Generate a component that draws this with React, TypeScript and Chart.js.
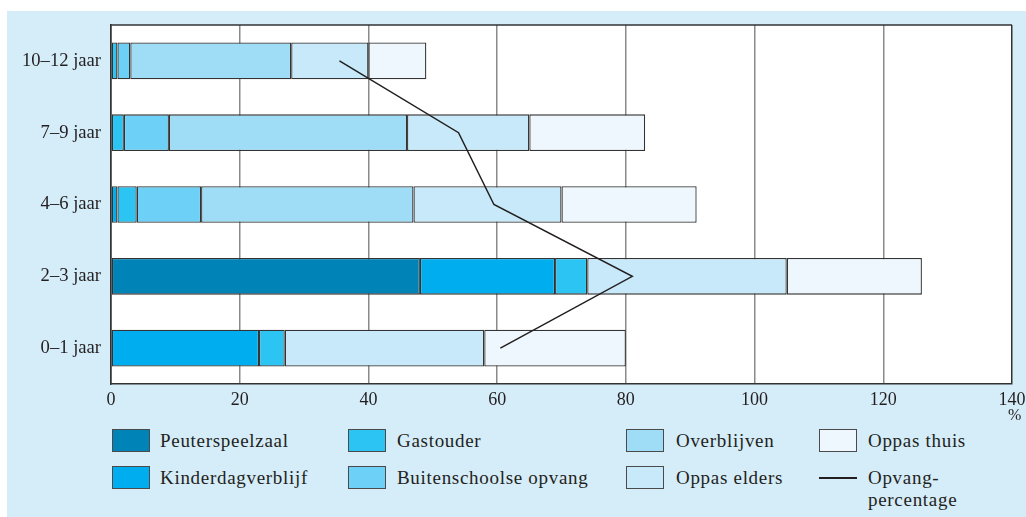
import React, { useEffect, useRef } from 'react';
import { Chart, registerables } from 'chart.js';

Chart.register(...registerables);

// ---- data ----
const categories = ['10–12 jaar', '7–9 jaar', '4–6 jaar', '2–3 jaar', '0–1 jaar'];
const peuterspeelzaal = [null, null, null, 48, null];
const kinderdagverblijf = [null, null, 1, 21, 23];
const gastouder = [1, 2, 3, 5, 4];
const buitenschoolseOpvang = [2, 7, 10, null, null];
const overblijven = [25, 37, 33, null, null];
const oppasElders = [12, 19, 23, 31, 31];
const oppasThuis = [9, 18, 21, 21, 22];
const opvangPercentage = [35.5, 54, 59.5, 81, 60.5];
const xTickValues = [0, 20, 40, 60, 80, 100, 120, 140];

const seriesNames = [
  'Peuterspeelzaal',
  'Kinderdagverblijf',
  'Gastouder',
  'Buitenschoolse opvang',
  'Overblijven',
  'Oppas elders',
  'Oppas thuis',
];
const seriesValues = [
  peuterspeelzaal,
  kinderdagverblijf,
  gastouder,
  buitenschoolseOpvang,
  overblijven,
  oppasElders,
  oppasThuis,
];
const lineName = 'Opvang-\npercentage';

// ---- styles ----
const seriesColors = ['#0083b6', '#00aeef', '#2cc5f3', '#6dd0f6', '#9fddf7', '#c7e9f9', '#eef7fd'];
const FONT = '"Liberation Serif", "Times New Roman", serif';
const TEXT = '#231f20';
const PANEL = '#d5ecf9';

const legendSlots = [
  { x: 112, y: 429, tx: 160, cy: 441 },
  { x: 112, y: 466, tx: 160, cy: 478 },
  { x: 348, y: 429, tx: 397, cy: 441 },
  { x: 348, y: 466, tx: 397, cy: 478 },
  { x: 626, y: 429, tx: 676, cy: 441 },
  { x: 626, y: 466, tx: 676, cy: 478 },
  { x: 819, y: 429, tx: 868, cy: 441 },
];
const lineSlot = { x: 819, y: 466, tx: 868, cy: 478 };

const plotPlugin = {
  id: 'plotBg',
  beforeDraw(chart: any) {
    const { ctx, chartArea } = chart;
    ctx.save();
    ctx.fillStyle = '#ffffff';
    ctx.fillRect(chartArea.left, chartArea.top, chartArea.right - chartArea.left, chartArea.bottom - chartArea.top);
    ctx.restore();
  },
  beforeDatasetsDraw(chart: any) {
    const { ctx, chartArea } = chart;
    ctx.save();
    ctx.strokeStyle = '#333333';
    ctx.lineWidth = 1.5;
    ctx.beginPath();
    ctx.moveTo(chartArea.left, chartArea.top);
    ctx.lineTo(chartArea.right, chartArea.top);
    ctx.stroke();
    ctx.restore();
  },
};

export default function App() {
  const canvasRef = useRef<HTMLCanvasElement | null>(null);

  useEffect(() => {
    if (!canvasRef.current) return;
    const barSets: any[] = seriesNames.map((name, i) => ({
      type: 'bar',
      label: name,
      data: seriesValues[i],
      backgroundColor: seriesColors[i],
      borderColor: '#333333',
      borderWidth: 1.3,
      borderSkipped: false,
      barPercentage: 0.511,
      categoryPercentage: 1,
      stack: 'bars',
      order: 1,
    }));
    const lineSet: any = {
      type: 'line',
      label: 'Opvangpercentage',
      data: opvangPercentage,
      indexAxis: 'y',
      borderColor: TEXT,
      borderWidth: 1.5,
      pointRadius: 0,
      tension: 0,
      fill: false,
      stack: 'line',
      order: 0,
    };
    const chart = new Chart(canvasRef.current, {
      type: 'bar',
      data: { labels: categories, datasets: [...barSets, lineSet] },
      options: {
        indexAxis: 'y',
        animation: false,
        responsive: false,
        maintainAspectRatio: false,
        layout: { padding: { top: 25, right: 0, left: 0, bottom: 0 } },
        plugins: { legend: { display: false }, tooltip: { enabled: false }, title: { display: false } },
        scales: {
          x: {
            type: 'linear',
            stacked: true,
            min: 0,
            max: 140,
            afterFit(scale: any) {
              scale.height = 36;
              scale.paddingLeft = 0;
              scale.paddingRight = 14;
            },
            afterBuildTicks(scale: any) {
              scale.ticks = xTickValues.map((v) => ({ value: v }));
            },
            ticks: {
              font: { family: FONT, size: 18 },
              color: TEXT,
              padding: 5,
              maxRotation: 0,
            },
            grid: {
              drawTicks: false,
              color: (c: any) => (c.tick && (c.tick.value === 140 || c.tick.value === 0) ? '#333333' : '#8a8a8a'),
              lineWidth: 1.5,
            },
            border: { display: true, color: '#333333', width: 1.5 },
          },
          y: {
            type: 'category',
            stacked: true,
            afterFit(scale: any) {
              scale.width = 111;
            },
            ticks: {
              font: { family: FONT, size: 18.6 },
              color: TEXT,
              padding: 10,
            },
            grid: { display: false, drawTicks: false },
            border: { display: true, color: '#333333', width: 1.5 },
          },
        },
      } as any,
      plugins: [plotPlugin],
    } as any);
    return () => chart.destroy();
  }, []);

  const textStyle: React.CSSProperties = {
    position: 'absolute',
    fontSize: 19,
    lineHeight: '22px',
    color: TEXT,
    letterSpacing: '0.7px',
    whiteSpace: 'pre',
  };

  return (
    <div
      style={{
        position: 'absolute',
        left: 0,
        top: 0,
        width: 1026,
        height: 517,
        background: '#ffffff',
        overflow: 'hidden',
        fontFamily: FONT,
      }}
    >
      <div style={{ position: 'absolute', left: 7, top: 11, right: 0, bottom: 0, background: PANEL }} />
      <canvas
        ref={canvasRef}
        width={1026}
        height={420}
        style={{ position: 'absolute', left: 0, top: 0, width: 1026, height: 420 }}
      />
      <div style={{ ...textStyle, left: 1008, top: 404, fontSize: 16, letterSpacing: 0 }}>%</div>
      {seriesNames.map((name, i) => {
        const s = legendSlots[i];
        return (
          <React.Fragment key={name}>
            <div
              style={{
                position: 'absolute',
                left: s.x,
                top: s.y,
                width: 36,
                height: 21,
                background: seriesColors[i],
                border: '1px solid #4a4a4a',
              }}
            />
            <div style={{ ...textStyle, left: s.tx, top: s.cy - 11 }}>{name}</div>
          </React.Fragment>
        );
      })}
      <div
        style={{
          position: 'absolute',
          left: lineSlot.x,
          top: lineSlot.cy - 1,
          width: 38,
          height: 1.5,
          background: TEXT,
        }}
      />
      <div style={{ ...textStyle, left: lineSlot.tx, top: lineSlot.cy - 11 }}>{lineName}</div>
    </div>
  );
}
